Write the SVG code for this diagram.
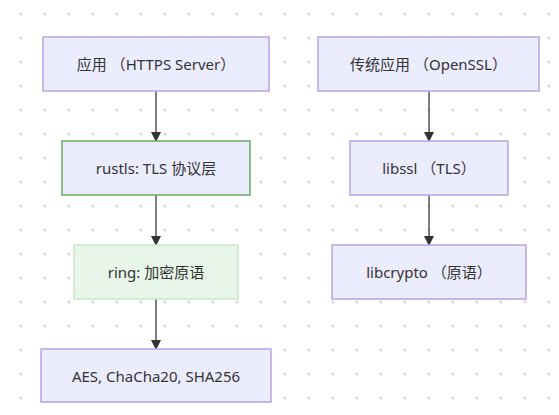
<svg xmlns="http://www.w3.org/2000/svg" width="559" height="415" viewBox="0 0 559 415">
<defs>
<pattern id="dots" x="21" y="14" width="24" height="24" patternUnits="userSpaceOnUse">
<circle cx="0" cy="0" r="1.5" fill="#d4d4d4"/><circle cx="24" cy="0" r="1.5" fill="#d4d4d4"/><circle cx="0" cy="24" r="1.5" fill="#d4d4d4"/><circle cx="24" cy="24" r="1.5" fill="#d4d4d4"/>
</pattern>
<marker id="arrow" viewBox="0 0 10 10" refX="9" refY="5" markerWidth="10" markerHeight="10" markerUnits="userSpaceOnUse" orient="auto">
<path d="M0,0 L10,5 L0,10 z" fill="#333"/>
</marker>
<style>
.node rect{fill:#ECECFF;stroke:#b9a2e6;stroke-width:1.5}
.node.green rect{stroke:#6aa86a}
.node.light rect{fill:#e8f5e9;stroke:#c8e6c9}
.node text{font-family:"Noto Sans","Noto Sans CJK SC",sans-serif;font-size:15px;fill:#333;text-anchor:middle;dominant-baseline:central}
.edge{stroke:#555;stroke-width:1.5;fill:none;marker-end:url(#arrow)}
</style>
</defs>
<rect width="559" height="415" fill="#fff"/>
<rect width="559" height="415" fill="url(#dots)"/>
<g id="connectors">
<line class="edge" x1="156" y1="91" x2="156" y2="141"/>
<line class="edge" x1="156" y1="195" x2="156" y2="245"/>
<line class="edge" x1="156" y1="299" x2="156" y2="349"/>
<line class="edge" x1="429" y1="91" x2="429" y2="141"/>
<line class="edge" x1="429" y1="195" x2="429" y2="245"/>
</g>
<g id="app" class="node"><rect x="43" y="37" width="226" height="54"/><text x="156" y="64">应用 （HTTPS Server）</text></g>
<g id="rustls" class="node green"><rect x="62" y="141" width="188" height="54"/><text x="156" y="168">rustls: TLS 协议层</text></g>
<g id="ring" class="node light"><rect x="74" y="245" width="164" height="54"/><text x="156" y="272">ring: 加密原语</text></g>
<g id="prims" class="node"><rect x="41" y="349" width="230" height="53"/><text x="156" y="376">AES, ChaCha20, SHA256</text></g>
<g id="legacy" class="node"><rect x="318" y="37" width="221" height="54"/><text x="428.5" y="64">传统应用 （OpenSSL）</text></g>
<g id="libssl" class="node"><rect x="350" y="141" width="158" height="54"/><text x="429" y="168">libssl （TLS）</text></g>
<g id="libcrypto" class="node"><rect x="332" y="245" width="194" height="54"/><text x="429" y="272">libcrypto （原语）</text></g>
</svg>
